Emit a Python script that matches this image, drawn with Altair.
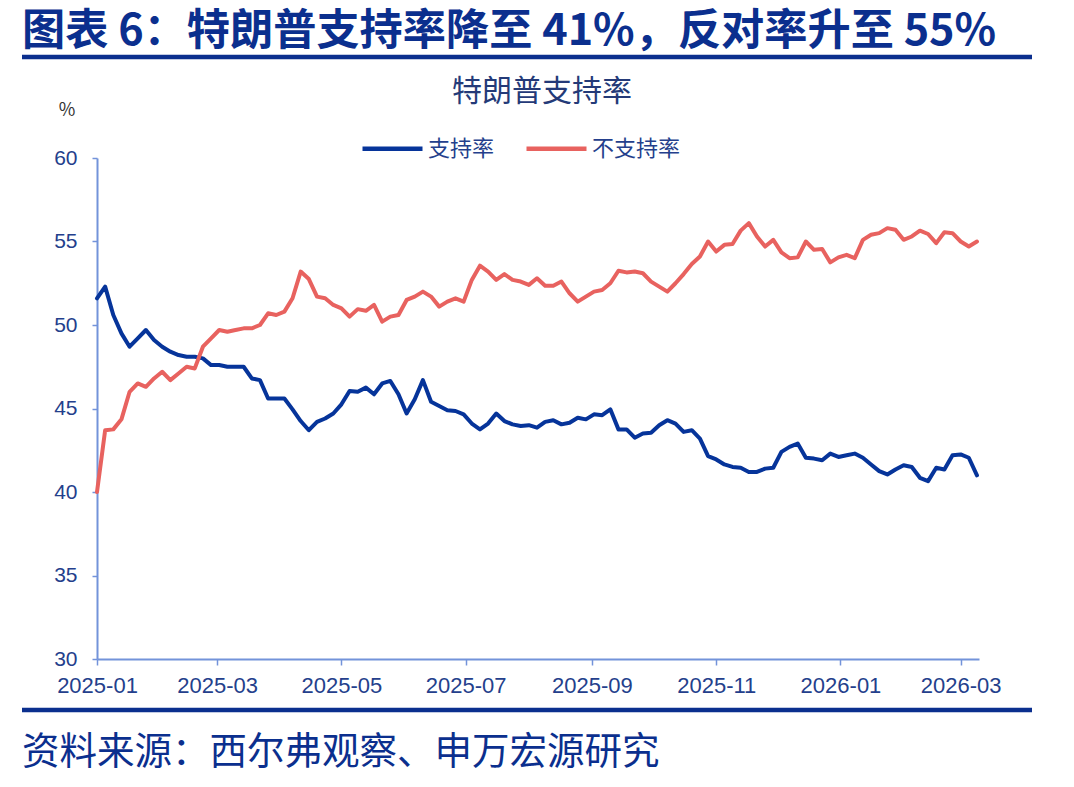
import altair as alt
import pandas as pd

# Sampling dates: every 4 days from inauguration to late March 2026
dates = pd.date_range("2025-01-20", "2026-03-28", freq="4D")

approve = [
    51.6, 52.3, 50.6, 49.5, 48.7, 49.2, 49.7, 49.1, 48.7, 48.4,
    48.2, 48.1, 48.1, 48.0, 47.6, 47.6, 47.5, 47.5, 47.5, 46.8,
    46.7, 45.6, 45.6, 45.6, 44.95, 44.25, 43.7, 44.2, 44.4, 44.7,
    45.25, 46.05, 46.0, 46.25, 45.85, 46.5, 46.65, 45.85, 44.7, 45.55,
    46.7, 45.4, 45.15, 44.9, 44.85, 44.65, 44.1, 43.75, 44.1, 44.7,
    44.25, 44.05, 43.95, 44.0, 43.85, 44.2, 44.3, 44.05, 44.15, 44.45,
    44.35, 44.65, 44.6, 44.95, 43.75, 43.75, 43.25, 43.5, 43.55, 44.0,
    44.3, 44.1, 43.6, 43.7, 43.2, 42.15, 41.95, 41.65, 41.5, 41.45,
    41.2, 41.2, 41.4, 41.45, 42.4, 42.7, 42.9, 42.05, 42.0, 41.9,
    42.3, 42.1, 42.2, 42.3, 42.05, 41.65, 41.25, 41.05, 41.35, 41.6,
    41.5, 40.85, 40.65, 41.45, 41.35, 42.2, 42.25, 42.05, 41.0,
]

disapprove = [
    40.0, 43.7, 43.75, 44.35, 46.0, 46.5, 46.3, 46.8, 47.2, 46.7,
    47.1, 47.5, 47.4, 48.7, 49.2, 49.7, 49.6, 49.7, 49.8, 49.8,
    50.0, 50.7, 50.6, 50.8, 51.6, 53.2, 52.75, 51.7, 51.6, 51.2,
    51.0, 50.5, 50.95, 50.85, 51.2, 50.2, 50.5, 50.6, 51.5, 51.7,
    52.0, 51.7, 51.1, 51.4, 51.6, 51.4, 52.7, 53.55, 53.2, 52.7,
    53.05, 52.7, 52.6, 52.4, 52.8, 52.35, 52.35, 52.6, 51.9, 51.4,
    51.7, 52.0, 52.1, 52.5, 53.25, 53.15, 53.2, 53.1, 52.6, 52.3,
    52.0, 52.5, 53.05, 53.65, 54.1, 55.0, 54.4, 54.8, 54.85, 55.65,
    56.1, 55.3, 54.7, 55.1, 54.35, 54.0, 54.05, 55.0, 54.5, 54.55,
    53.75, 54.05, 54.2, 54.0, 55.1, 55.4, 55.5, 55.8, 55.7, 55.1,
    55.3, 55.65, 55.45, 54.9, 55.55, 55.5, 55.0, 54.7, 55.0,
]

series_names = ["支持率", "不支持率"]
series_colors = ["#06349a", "#e8625f"]

y_ticks = [30, 35, 40, 45, 50, 55, 60]
x_tick_labels = ["2025-01", "2025-03", "2025-05", "2025-07",
                 "2025-09", "2025-11", "2026-01", "2026-03"]

header_text = "图表 6：特朗普支持率降至 41%，反对率升至 55%"
chart_title = "特朗普支持率"
unit_text = "%"
source_text = "资料来源：西尔弗观察、申万宏源研究"

NAVY = "#0b2f8e"
LABEL = "#243f8c"
AXIS = "#7393da"
CJK = "Noto Sans CJK SC"

n = len(dates)
df = pd.DataFrame({
    "date": list(dates) * 2,
    "value": approve + disapprove,
    "series": [series_names[0]] * n + [series_names[1]] * n,
})

x_ticks = [alt.DateTime(year=int(s[:4]), month=int(s[5:]), date=20) for s in x_tick_labels]
x_domain = [alt.DateTime(year=2025, month=1, date=20), alt.DateTime(year=2026, month=3, date=29)]

lines = alt.Chart(df).mark_line(strokeWidth=4, strokeJoin="round", strokeCap="round").encode(
    x=alt.X(
        "date:T",
        scale=alt.Scale(domain=x_domain),
        axis=alt.Axis(
            values=x_ticks, format="%Y-%m", title=None, grid=False,
            labelFlush=False, labelOverlap=False, labelFont="Liberation Sans",
            labelFontSize=22, labelColor=LABEL, labelPadding=10,
            domainColor=AXIS, domainWidth=2, tickColor=AXIS, tickWidth=1.5, tickSize=6,
        ),
    ),
    y=alt.Y(
        "value:Q",
        scale=alt.Scale(domain=[30, 60], nice=False, zero=False),
        axis=alt.Axis(
            values=y_ticks, title=None, grid=False, labelFont="Liberation Sans",
            labelFontSize=21, labelColor=LABEL, labelPadding=15,
            domainColor=AXIS, domainWidth=2, tickColor=AXIS, tickWidth=1.5, tickSize=5,
        ),
    ),
    color=alt.Color(
        "series:N",
        scale=alt.Scale(domain=series_names, range=series_colors),
        legend=alt.Legend(
            orient="none", legendX=263, legendY=-42, direction="horizontal",
            title=None, symbolType="stroke", symbolSize=3600, symbolStrokeWidth=4.5,
            labelFont=CJK, labelFontSize=22, labelColor=LABEL,
            columnPadding=22, labelOffset=3,
        ),
    ),
)


def text_layer(txt, x, y, size, color, align="left", weight="normal"):
    return alt.Chart(pd.DataFrame({"t": [txt]})).mark_text(
        font=CJK, fontSize=size, color=color, align=align,
        baseline="middle", fontWeight=weight,
    ).encode(text="t:N", x=alt.value(x), y=alt.value(y))


def rule_layer(x1, x2, y, width, color):
    return alt.Chart(pd.DataFrame({"r": [0]})).mark_rule(
        color=color, strokeWidth=width
    ).encode(x=alt.value(x1), x2=alt.value(x2), y=alt.value(y))


header = text_layer(header_text, -75, -126, 43.2, NAVY, weight="bold")
header_rule = rule_layer(-75, 935, -101, 4.5, NAVY)
title = text_layer(chart_title, 445, -66, 30, "#243a78", align="center")
unit = text_layer(unit_text, -30, -47, 18, "#333333", align="center")
bottom_rule = rule_layer(-75, 935, 552, 4.5, NAVY)
source = text_layer(source_text, -75, 595, 37.5, NAVY)

chart = alt.layer(
    lines, header, header_rule, title, unit, bottom_rule, source
).properties(
    width=882,
    height=501,
    autosize=alt.AutoSizeParams(type="none"),
    padding={"left": 97, "top": 158, "right": 95, "bottom": 128},
    background="white",
).configure_view(strokeWidth=0)

chart.save("out.html", embed_options={"renderer": "svg", "actions": False})
